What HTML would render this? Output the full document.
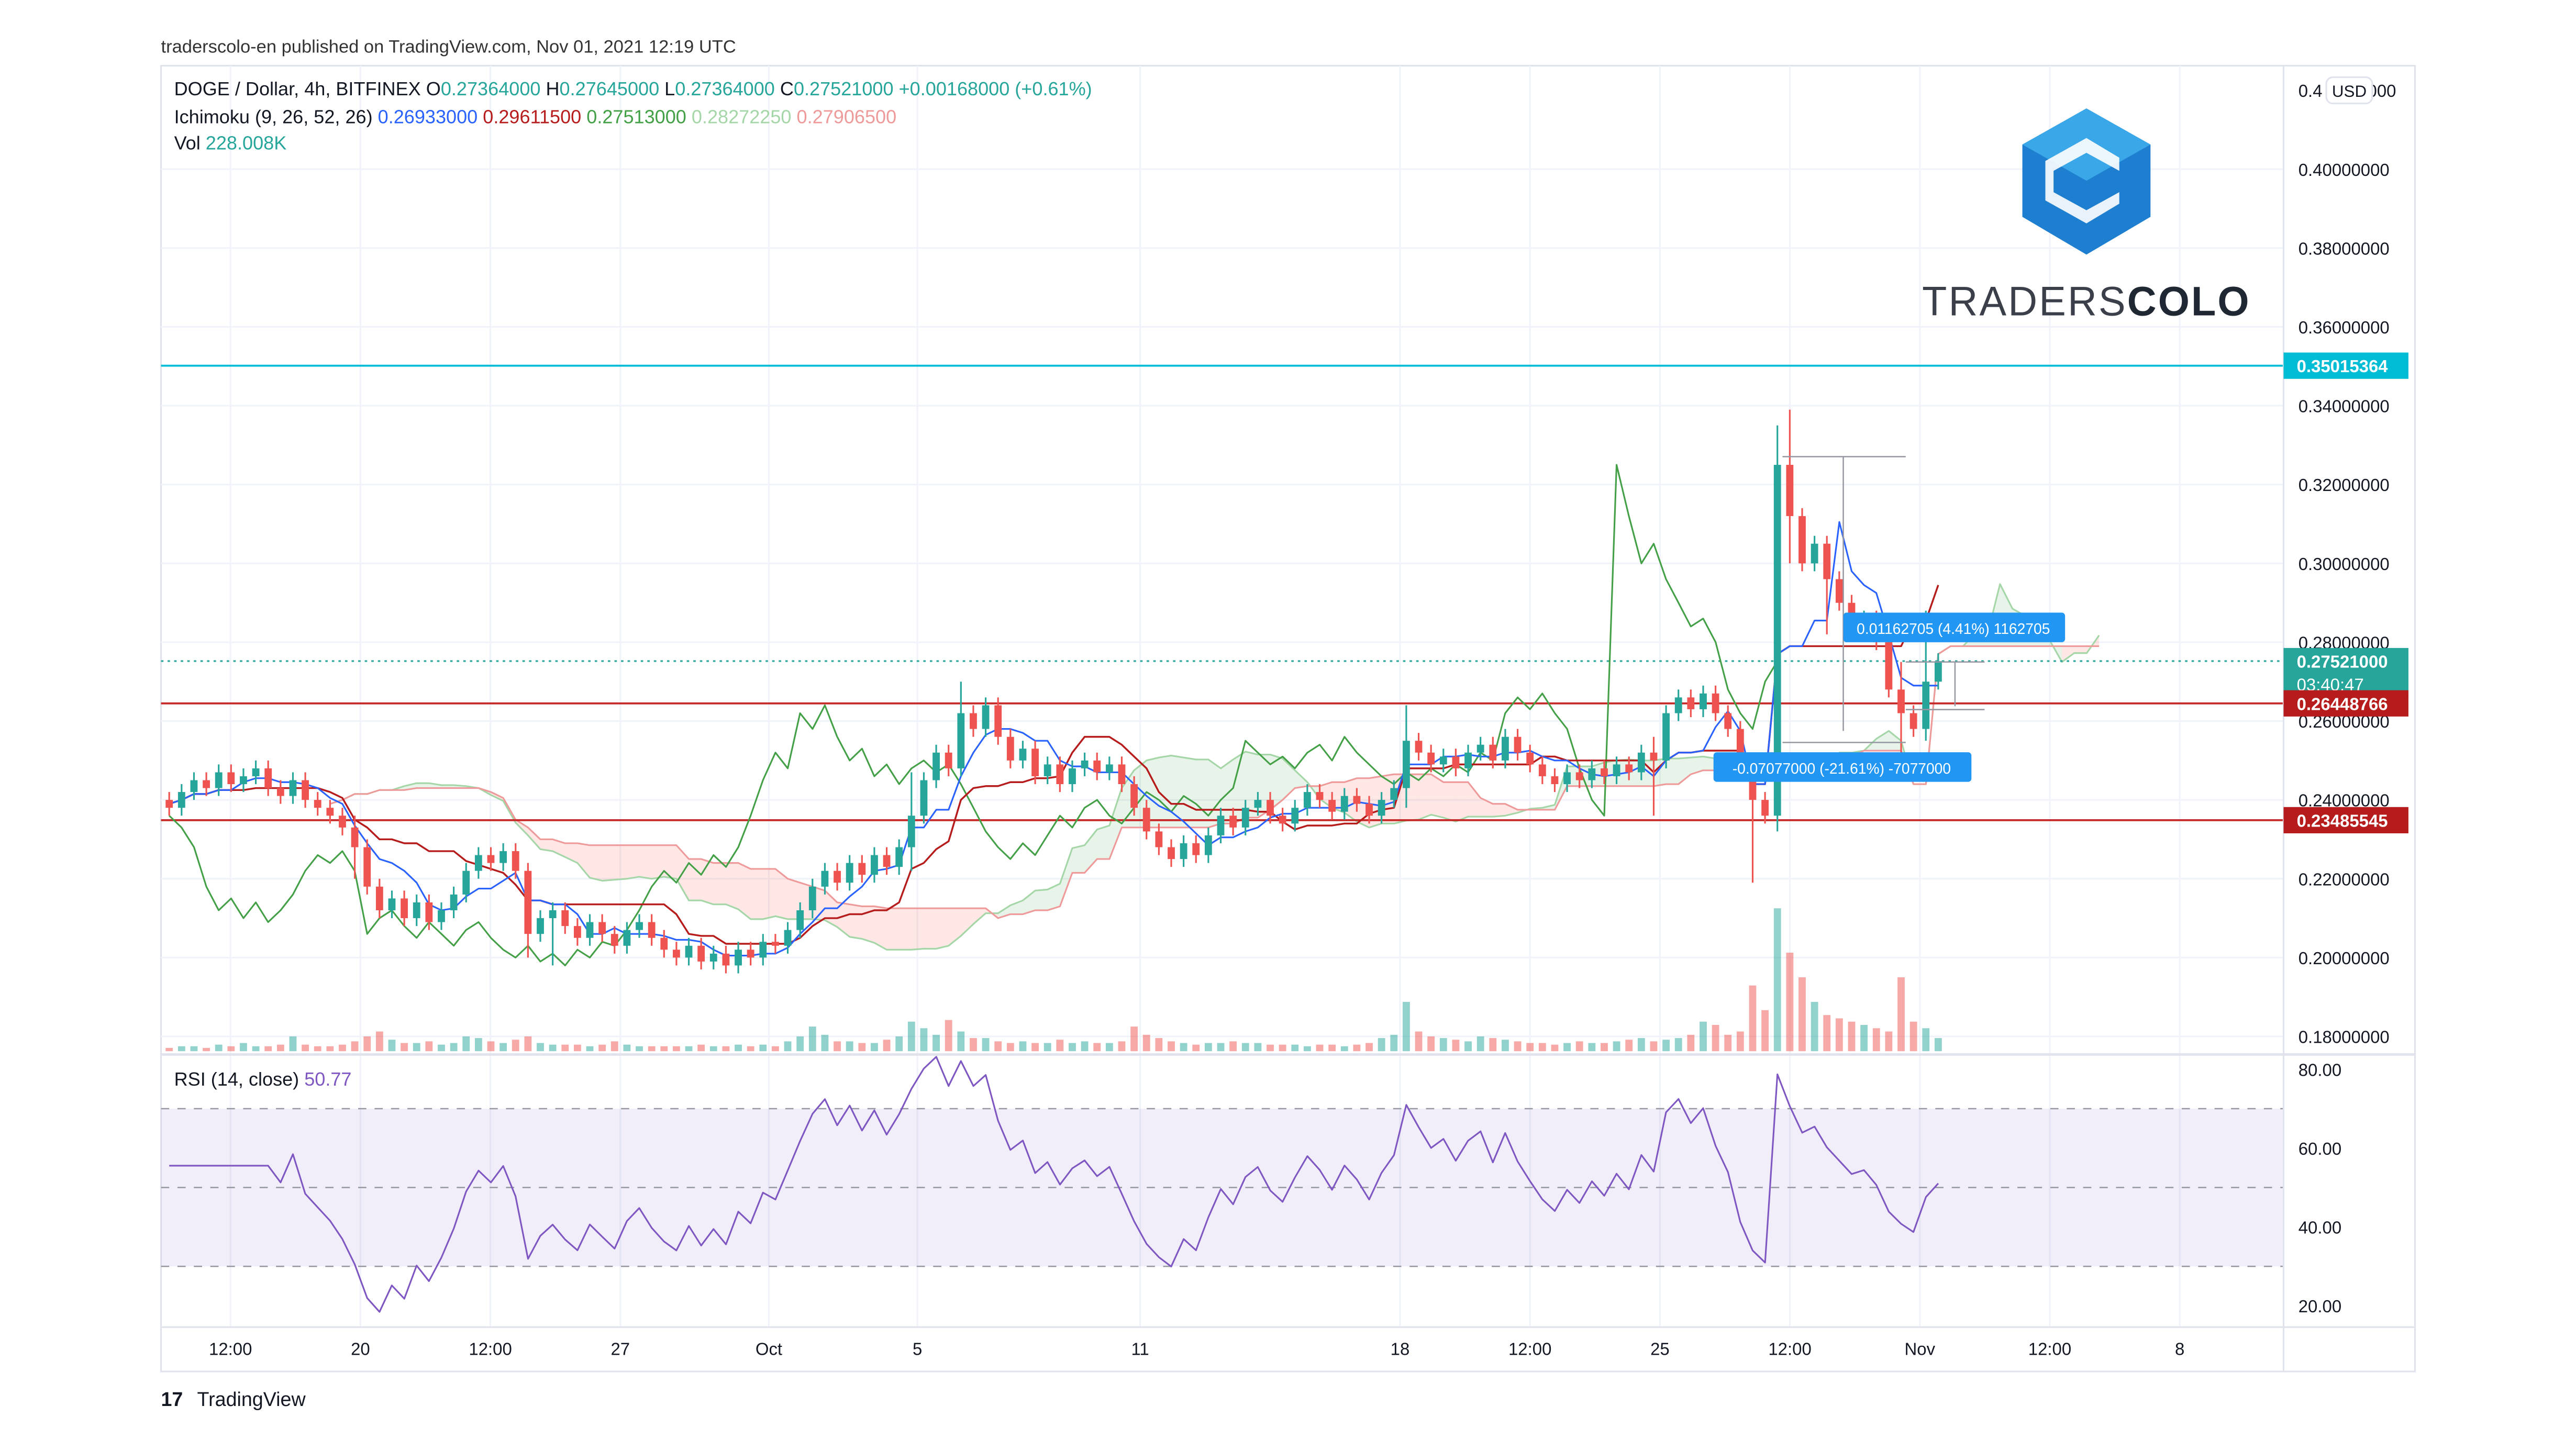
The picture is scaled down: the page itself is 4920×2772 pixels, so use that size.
<!DOCTYPE html>
<html><head><meta charset="utf-8">
<style>
html,body{margin:0;padding:0;background:#fff;}
svg{display:block;font-family:"Liberation Sans",sans-serif;}
</style></head>
<body>
<svg id="chart" width="4920" height="2772" viewBox="0 0 1568 883.4" xmlns="http://www.w3.org/2000/svg">
<rect x="0" y="0" width="1568" height="884" fill="#fff"/>
<text x="98" y="32" font-size="11" fill="#333">traderscolo-en published on TradingView.com, Nov 01, 2021 12:19 UTC</text>
<rect x="98" y="40" width="1372" height="795" fill="none" stroke="#e0e3eb" stroke-width="1"/>
<g id="grid"></g>
<g id="cloud"></g>
<g id="vol"></g>
<g id="hlines"></g>
<g id="lines"></g>
<g id="candles"></g>
<g id="rsi"></g>
<g id="axes"></g>
<g>
  <line x1="1085" y1="278" x2="1160" y2="278" stroke="#9598a1" stroke-width="0.8"/>
  <line x1="1122" y1="278" x2="1122" y2="445" stroke="#9598a1" stroke-width="0.8"/>
  <line x1="1085" y1="452" x2="1160" y2="452" stroke="#9598a1" stroke-width="0.8"/>
  <line x1="1160" y1="403" x2="1208" y2="403" stroke="#9598a1" stroke-width="0.8"/>
  <line x1="1190" y1="403" x2="1190" y2="430" stroke="#9598a1" stroke-width="0.8"/>
  <line x1="1160" y1="432" x2="1208" y2="432" stroke="#9598a1" stroke-width="0.8"/>
  <rect x="1122" y="373" width="135" height="18" rx="2" fill="#2196f3"/>
  <text x="1189" y="386" font-size="9" fill="#fff" text-anchor="middle">0.01162705 (4.41%) 1162705</text>
  <rect x="1043" y="458" width="157" height="18" rx="2" fill="#2196f3"/>
  <text x="1121" y="471" font-size="9" fill="#fff" text-anchor="middle">-0.07077000 (-21.61%) -7077000</text>
</g>
<g font-size="11.5">
  <text x="106" y="58" fill="#131722">DOGE / Dollar, 4h, BITFINEX <tspan>O</tspan><tspan fill="#26a69a">0.27364000</tspan> H<tspan fill="#26a69a">0.27645000</tspan> L<tspan fill="#26a69a">0.27364000</tspan> C<tspan fill="#26a69a">0.27521000</tspan> <tspan fill="#26a69a">+0.00168000 (+0.61%)</tspan></text>
  <text x="106" y="75" fill="#131722">Ichimoku (9, 26, 52, 26) <tspan fill="#2962ff">0.26933000</tspan> <tspan fill="#b71c1c">0.29611500</tspan> <tspan fill="#43a047">0.27513000</tspan> <tspan fill="#a5d6a7">0.28272250</tspan> <tspan fill="#ef9a9a">0.27906500</tspan></text>
  <text x="106" y="91" fill="#131722">Vol <tspan fill="#26a69a">228.008K</tspan></text>
  <text x="106" y="661" fill="#131722">RSI (14, close) <tspan fill="#7e57c2">50.77</tspan></text>
</g>
<g>
  <polygon points="1270,66 1309,88 1309,132 1270,155 1231,132 1231,88" fill="#1e7fd0"/>
  <polygon points="1270,66 1309,88 1270,110 1231,88" fill="#3aa7e8"/>
  <polygon points="1270,84 1290,96 1290,104 1270,93 1250,104 1250,117 1270,128 1290,117 1290,124 1270,136 1245,122 1245,98" fill="#fff" opacity="0.9"/>
  <text x="1170" y="192" font-size="25" fill="#3a3f4a" letter-spacing="1" textLength="200" lengthAdjust="spacingAndGlyphs">TRADERS<tspan font-weight="bold" fill="#1f2733">COLO</tspan></text>
</g>
<g>
  <text x="98" y="856" font-size="12" font-weight="bold" fill="#131722">17</text>
  <text x="120" y="856" font-size="12" fill="#131722">TradingView</text>
</g>
</svg>
<script>
// ---- data (8h resolution approximations) ----
const closes = [0.238,0.242,0.245,0.243,0.247,0.244,0.246,0.248,0.243,0.241,0.245,0.240,0.238,0.236,0.233,0.228,0.218,0.212,0.215,0.210,0.214,0.209,0.212,0.216,0.222,0.226,0.224,0.227,0.222,0.206,0.210,0.212,0.208,0.205,0.209,0.206,0.203,0.207,0.209,0.205,0.202,0.200,0.203,0.199,0.201,0.198,0.202,0.200,0.204,0.203,0.207,0.212,0.218,0.222,0.219,0.224,0.221,0.226,0.223,0.228,0.236,0.245,0.252,0.248,0.262,0.258,0.264,0.256,0.250,0.253,0.246,0.249,0.244,0.248,0.250,0.247,0.249,0.244,0.238,0.232,0.228,0.225,0.229,0.226,0.231,0.236,0.233,0.238,0.240,0.236,0.234,0.238,0.242,0.240,0.237,0.241,0.239,0.236,0.240,0.243,0.255,0.252,0.249,0.251,0.248,0.252,0.254,0.250,0.256,0.252,0.249,0.246,0.244,0.247,0.245,0.248,0.246,0.249,0.247,0.252,0.250,0.262,0.266,0.263,0.267,0.262,0.258,0.248,0.240,0.236,0.325,0.312,0.300,0.305,0.296,0.290,0.284,0.286,0.280,0.268,0.262,0.258,0.270,0.27521];
const firstOpen = 0.240;
const spikeIdx = [15,29,31,60,64,100,120,128,130,131,134,140,142];
const spikeHigh = [0.236,0.224,0.214,0.247,0.270,0.264,0.256,0.247,0.335,0.339,0.300,0.275,0.288];
const spikeLow = [0.220,0.200,0.198,0.222,0.250,0.238,0.236,0.219,0.232,0.300,0.282,0.250,0.255];
const volumes = [2,3,3,2,4,3,5,3,3,4,9,4,3,3,4,6,9,12,7,5,5,6,4,5,9,8,6,5,7,9,5,4,4,4,3,4,6,4,3,3,3,3,3,4,3,3,4,3,4,3,6,9,15,10,6,6,5,5,7,9,18,14,10,19,12,8,8,6,5,6,5,5,7,5,6,5,5,6,15,10,8,6,5,4,5,5,6,5,5,4,4,4,3,4,4,3,4,5,8,10,30,12,9,8,7,6,9,8,7,6,5,5,4,5,6,5,5,6,7,8];
const volumeTail = [6,7,8,10,18,16,10,12,40,25,87,60,45,30,22,20,18,16,14,12,45,18,14,8];
const priceTicks = [0.18,0.20,0.22,0.24,0.26,0.28,0.30,0.32,0.34,0.36,0.38,0.40];
const rsiTicks = [20,40,60,80];
const timeLabels = ["12:00","20","12:00","27","Oct","5","11","18","12:00","25","12:00","Nov","12:00","8"];
const timeDays = [-13.5,-10,-6.5,-3,1,5,11,18,21.5,25,28.5,32,35.5,39];
const levels = [0.35015364,0.26448766,0.23485545];
const lastLabel = "0.27521000";
volumes.splice(120, volumes.length-120, ...volumeTail);

// ---- scales ----
const X0 = 100, STEP = 7.53, DAYPX = 22.6;
const xi = i => X0 + 3 + i*STEP;
const yp = p => 631 - (p-0.18)/0.01*24;
const yr = v => 651 + (80-v)*2.4;
const xDay = d => 468 + (d-1)*DAYPX;
const NS = "http://www.w3.org/2000/svg";
function mk(tag, attrs, parent){const e=document.createElementNS(NS,tag);for(const k in attrs)e.setAttribute(k,attrs[k]);parent.appendChild(e);return e;}
const gid = id => document.getElementById(id);

// grid
priceTicks.forEach(p=>{const l=mk('line',{x1:98,x2:1390,y1:yp(p),y2:yp(p),stroke:'#f0f3fa','stroke-width':1},gid('grid'));

});
timeDays.forEach(d=>{const l=mk('line',{x1:xDay(d),x2:xDay(d),y1:40,y2:808,stroke:'#f0f3fa','stroke-width':1},gid('grid'));

});

// OHLC
const n = closes.length;
const opens = closes.map((c,i)=> i===0?firstOpen:closes[i-1]);
const highs = closes.map((c,i)=>Math.max(c,opens[i])+0.002);
const lows = closes.map((c,i)=>Math.min(c,opens[i])-0.002);
spikeIdx.forEach((k,j)=>{highs[k]=Math.max(highs[k],spikeHigh[j]);lows[k]=Math.min(lows[k],spikeLow[j]);});

// ichimoku (periods scaled to 8h candles)
function midv(arrH,arrL,i,p){let h=-1,l=9;for(let k=Math.max(0,i-p+1);k<=i;k++){h=Math.max(h,arrH[k]);l=Math.min(l,arrL[k]);}return (h+l)/2;}
const tenkan=[],kijun=[],spanA=[],spanB=[];
for(let i=0;i<n;i++){tenkan.push(midv(highs,lows,i,5));kijun.push(midv(highs,lows,i,13));spanA.push((tenkan[i]+kijun[i])/2);spanB.push(midv(highs,lows,i,26));}
const D=13;
for(let i=0;i<n-1;i++){
  const xa=xi(i+D),xb=xi(i+1+D);
  const up = spanA[i]>=spanB[i];
  const poly=mk('polygon',{points:`${xa},${yp(spanA[i])} ${xb},${yp(spanA[i+1])} ${xb},${yp(spanB[i+1])} ${xa},${yp(spanB[i])}`,fill:up?'#43a047':'#f44336','fill-opacity':up?0.12:0.13},gid('cloud'));
  
  
}
function path(arr,off,color,w,name,parent,yf){
  let d='';arr.forEach((v,i)=>{d+=(i?'L':'M')+xi(i+off).toFixed(1)+','+yf(v).toFixed(1);});
  const p=mk('path',{d:d,fill:'none',stroke:color,'stroke-width':w,'stroke-linejoin':'round'},parent);
  
  
  return p;
}
path(spanA,D,'#a5d6a7',1,'span-a-line',gid('cloud'),yp);
path(spanB,D,'#ef9a9a',1,'span-b-line',gid('cloud'),yp);

// volume
volumes.forEach((v,i)=>{if(i>=n)return;const up=closes[i]>=opens[i];
const r=mk('rect',{x:xi(i)-2.2,y:640-v,width:4.4,height:v,fill:up?'#26a69a':'#ef5350','fill-opacity':0.5},gid('vol'));

});

// horizontal levels
const lc=['#00bcd4','#c62828','#c62828'];
levels.forEach((p,j)=>{const l=mk('line',{x1:98,x2:1390,y1:yp(p),y2:yp(p),stroke:lc[j],'stroke-width':1.2},gid('hlines'));

});
const lastPx=closes[n-1];
const dl=mk('line',{x1:98,x2:1390,y1:yp(lastPx),y2:yp(lastPx),stroke:'#26a69a','stroke-width':1,'stroke-dasharray':'1.5,2.5'},gid('hlines'));



// ichimoku lines
path(closes.slice(D),0,'#43a047',1,'chikou-line',gid('lines'),yp);
path(kijun,0,'#b71c1c',1.1,'kijun-line',gid('lines'),yp);
path(tenkan,0,'#2962ff',1,'tenkan-line',gid('lines'),yp);

// candles
for(let i=0;i<n;i++){
  const up=closes[i]>=opens[i];const col=up?'#26a69a':'#ef5350';
  const w=mk('line',{x1:xi(i),x2:xi(i),y1:yp(highs[i]),y2:yp(lows[i]),stroke:col,'stroke-width':1},gid('candles'));
  
  
  const t=Math.min(yp(opens[i]),yp(closes[i]));const h=Math.max(1,Math.abs(yp(opens[i])-yp(closes[i])));
  const b=mk('rect',{x:xi(i)-2.2,y:t,width:4.4,height:h,fill:col},gid('candles'));
  
  
}

// RSI
const rsiPanel=gid('rsi');
const band=mk('rect',{x:98,y:yr(70),width:1292,height:yr(30)-yr(70),fill:'#7e57c2','fill-opacity':0.1},rsiPanel);


[70,50,30].forEach(v=>{const l=mk('line',{x1:98,x2:1390,y1:yr(v),y2:yr(v),stroke:'#9598a1','stroke-width':0.8,'stroke-dasharray':'5,5'},rsiPanel);

});
const P=9;const rsi=[];let ag=0,al=0;
for(let i=0;i<P;i++){const ch=closes[i]-opens[i];ag+=Math.max(ch,0)/P;al+=Math.max(-ch,0)/P;}
const seed=100-100/(1+ag/al);
for(let i=0;i<n;i++){
 if(i<P){rsi.push(seed);continue;}
 const ch=closes[i]-opens[i];
 ag=(ag*(P-1)+Math.max(ch,0))/P;al=(al*(P-1)+Math.max(-ch,0))/P;
 rsi.push(100-100/(1+ag/al));}
path(rsi,0,'#7e57c2',1,'rsi-line',rsiPanel,yr);

// axes
const ax=gid('axes');
const sep=mk('line',{x1:98,x2:1470,y1:642,y2:642,stroke:'#e0e3eb','stroke-width':1.5},ax);


const vsep=mk('line',{x1:1390,x2:1390,y1:40,y2:835,stroke:'#e0e3eb','stroke-width':1},ax);


const tsep=mk('line',{x1:98,x2:1470,y1:808,y2:808,stroke:'#e0e3eb','stroke-width':1},ax);


priceTicks.forEach(p=>{const t=mk('text',{x:1399,y:yp(p)+4,'font-size':10.5,fill:'#131722'},ax);t.textContent=p.toFixed(8);

});
const topLbl=mk('text',{x:1399,y:59,'font-size':10.5,fill:'#131722'},ax);topLbl.textContent='0.4';


const topLbl2=mk('text',{x:1441,y:59,'font-size':10.5,fill:'#131722'},ax);topLbl2.textContent='000';


const ub=mk('rect',{x:1416,y:47,width:28,height:16,rx:4,fill:'#fff',stroke:'#e0e3eb'},ax);


const ut=mk('text',{x:1430,y:59,'font-size':10,fill:'#131722','text-anchor':'middle'},ax);ut.textContent='USD';


rsiTicks.forEach(v=>{const t=mk('text',{x:1399,y:yr(v)+4,'font-size':10.5,fill:'#131722'},ax);t.textContent=v.toFixed(2);

});
timeLabels.forEach((s,j)=>{const t=mk('text',{x:xDay(timeDays[j]),y:825,'font-size':10.5,fill:'#131722','text-anchor':'middle'},ax);t.textContent=s;

});
function tagLbl(p,bg,txt,name,h){const y=yp(p);
 const r=mk('rect',{x:1390,y:y-8,width:76,height:h||16,fill:bg},ax);
 
 
 const t=mk('text',{x:1398,y:y+4,'font-size':10.5,fill:'#fff','font-weight':'bold'},ax);t.textContent=txt;
 
 }
tagLbl(levels[0],'#00bcd4',levels[0].toFixed(8),'level-tag-cyan');
tagLbl(lastPx,'#26a69a',lastLabel,'last-price-tag',30);
const cd=mk('text',{x:1398,y:yp(lastPx)+18,'font-size':10.5,fill:'#fff'},ax);cd.textContent='03:40:47';


tagLbl(levels[1],'#b71c1c',levels[1].toFixed(8),'level-tag-upper-red');
tagLbl(levels[2],'#b71c1c',levels[2].toFixed(8),'level-tag-lower-red');
</script>
</body></html>
